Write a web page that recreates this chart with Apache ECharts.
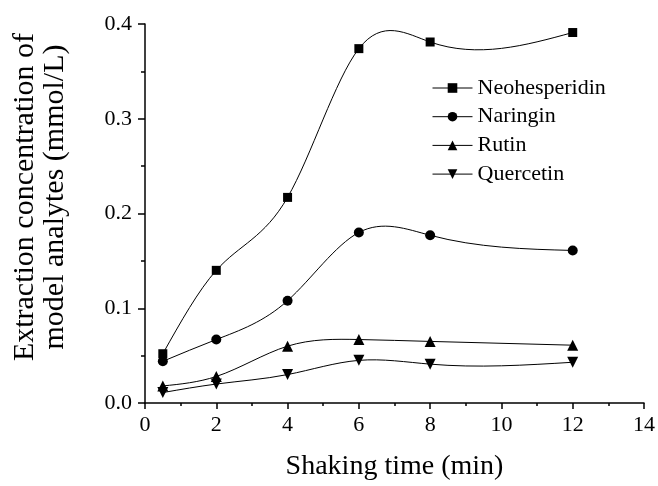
<!DOCTYPE html>
<html>
<head>
<meta charset="utf-8">
<script src="https://cdn.jsdelivr.net/npm/echarts@6/dist/echarts.min.js"></script>
<style>html,body{margin:0;padding:0;background:#fff;}#c{width:658px;height:486px;}</style>
</head>
<body>
<div id="c"></div>
<script>
const times = [0.5, 2, 4, 6, 8, 12];
const neohesperidin = [0.052, 0.140, 0.217, 0.374, 0.381, 0.391];
const naringin = [0.044, 0.067, 0.108, 0.180, 0.177, 0.161];
const rutin = [0.018, 0.028, 0.060, 0.067, 0.065, 0.061];
const quercetin = [0.011, 0.020, 0.030, 0.045, 0.041, 0.043];
const seriesNames = ['Neohesperidin', 'Naringin', 'Rutin', 'Quercetin'];
const xTitle = 'Shaking time (min)';
const yTitle = ['Extraction concentration of', 'model analytes (mmol/L)'];

const FONT = 'Liberation Serif';
const pair = (ys) => times.map((t, i) => [t, ys[i]]);

// natural cubic spline through the data, expressed as cubic Bezier segments (data space)
function splineSegments(xs, ys) {
  const n = xs.length;
  const h = [];
  for (let i = 0; i < n - 1; i++) h.push(xs[i + 1] - xs[i]);
  const M = new Array(n).fill(0);
  const a = [], b = [], c = [], d = [];
  for (let i = 1; i < n - 1; i++) {
    a.push(h[i - 1]); b.push(2 * (h[i - 1] + h[i])); c.push(h[i]);
    d.push(6 * ((ys[i + 1] - ys[i]) / h[i] - (ys[i] - ys[i - 1]) / h[i - 1]));
  }
  const m = b.length;
  for (let i = 1; i < m; i++) {
    const w = a[i] / b[i - 1];
    b[i] -= w * c[i - 1];
    d[i] -= w * d[i - 1];
  }
  const sol = new Array(m);
  for (let i = m - 1; i >= 0; i--) sol[i] = (d[i] - (i < m - 1 ? c[i] * sol[i + 1] : 0)) / b[i];
  for (let i = 0; i < m; i++) M[i + 1] = sol[i];
  const segs = [];
  for (let i = 0; i < n - 1; i++) {
    const s = (ys[i + 1] - ys[i]) / h[i];
    const d0 = s - h[i] * (2 * M[i] + M[i + 1]) / 6;
    const d1 = s + h[i] * (M[i] + 2 * M[i + 1]) / 6;
    segs.push([
      [xs[i] + h[i] / 3, ys[i] + d0 * h[i] / 3],
      [xs[i + 1] - h[i] / 3, ys[i + 1] - d1 * h[i] / 3],
      [xs[i + 1], ys[i + 1]]
    ]);
  }
  return segs;
}

const curve = (name, ys) => ({
  name: name + ' curve', type: 'custom', z: 1, silent: true,
  data: pair(ys), encode: { x: 0, y: 1 },
  renderItem: (params, api) => {
    if (params.dataIndex !== 0) return null;
    const segs = splineSegments(times, ys);
    const p0 = api.coord([times[0], ys[0]]);
    let path = 'M' + p0[0] + ' ' + p0[1];
    segs.forEach(sg => {
      const q1 = api.coord(sg[0]), q2 = api.coord(sg[1]), q3 = api.coord(sg[2]);
      path += ' C' + q1[0] + ' ' + q1[1] + ' ' + q2[0] + ' ' + q2[1] + ' ' + q3[0] + ' ' + q3[1];
    });
    return { type: 'path', shape: { pathData: path }, style: { stroke: '#000', fill: null, lineWidth: 1 } };
  }
});

const mk = (name, ys, symbol, size, rot) => ({
  name, type: 'line', data: pair(ys), z: 3,
  symbol, symbolSize: size, symbolRotate: rot || 0,
  lineStyle: { color: '#000', width: 1, opacity: 0 },
  itemStyle: { color: '#000' },
  showAllSymbol: true
});

const chart = echarts.init(document.getElementById('c'), null, { renderer: 'canvas' });
chart.setOption({
  animation: false,
  backgroundColor: '#fff',
  grid: { left: 145, right: 11, top: 24, bottom: 77, containLabel: false },
  xAxis: {
    type: 'value', min: 0, max: 14, interval: 2,
    name: xTitle, nameLocation: 'middle', nameGap: 50,
    nameTextStyle: { fontFamily: FONT, fontSize: 28, color: '#000' },
    axisLine: { lineStyle: { color: '#000', width: 1.5 } },
    axisTick: { inside: false, length: 6, lineStyle: { color: '#000', width: 1.5 } },
    minorTick: { show: true, splitNumber: 2, length: 3, lineStyle: { color: '#000', width: 1.5 } },
    splitLine: { show: false },
    axisLabel: { fontFamily: FONT, fontSize: 22, color: '#000', margin: 11 }
  },
  yAxis: {
    type: 'value', min: 0, max: 0.4, interval: 0.1,
    axisLine: { show: true, lineStyle: { color: '#000', width: 1.5 } },
    axisTick: { show: true, inside: false, length: 7, lineStyle: { color: '#000', width: 1.5 } },
    minorTick: { show: true, splitNumber: 2, length: 4, lineStyle: { color: '#000', width: 1.5 } },
    splitLine: { show: false },
    axisLabel: { fontFamily: FONT, fontSize: 22, color: '#000', margin: 13, formatter: v => v.toFixed(1) }
  },
  legend: {
    orient: 'vertical', left: 427, top: 72,
    itemWidth: 40, itemHeight: 12, itemGap: 6.7,
    data: seriesNames,
    lineStyle: { color: '#000', width: 1, opacity: 1 },
    textStyle: { fontFamily: FONT, fontSize: 22, color: '#000', lineHeight: 22 }
  },
  graphic: [{
    type: 'text',
    x: 40, y: 197, rotation: Math.PI / 2,
    style: {
      text: yTitle.join('\n'), fontFamily: FONT, fontSize: 30, fill: '#000',
      align: 'center', verticalAlign: 'middle', lineHeight: 30
    }
  }],
  series: [
    curve(seriesNames[0], neohesperidin),
    curve(seriesNames[1], naringin),
    curve(seriesNames[2], rutin),
    curve(seriesNames[3], quercetin),
    mk(seriesNames[0], neohesperidin, 'rect', 9),
    mk(seriesNames[1], naringin, 'circle', 10),
    mk(seriesNames[2], rutin, 'triangle', 11),
    mk(seriesNames[3], quercetin, 'triangle', 11, 180)
  ]
});
</script>
</body>
</html>
